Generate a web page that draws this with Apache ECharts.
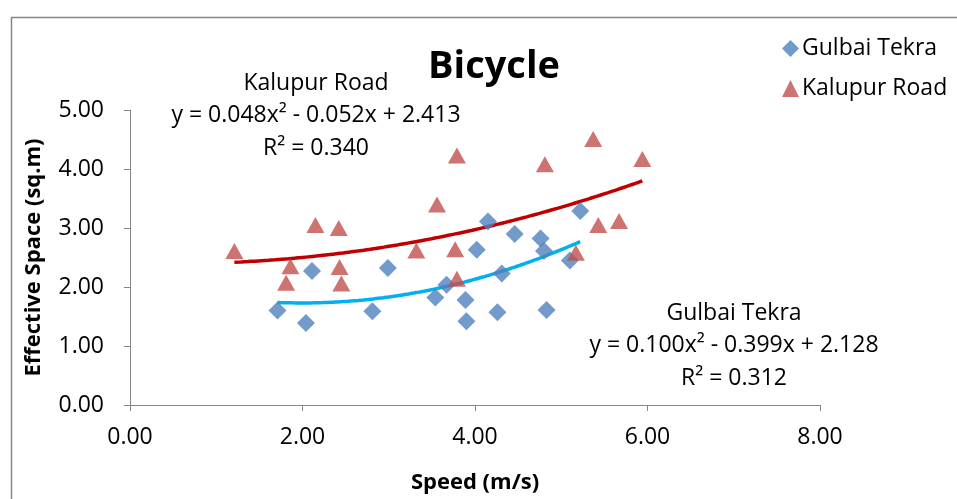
<!DOCTYPE html>
<html>
<head>
<meta charset="utf-8">
<script src="https://cdn.jsdelivr.net/npm/echarts@6/dist/echarts.min.js"></script>
<style>
html,body{margin:0;padding:0;background:#fff;}
#chart{width:957px;height:499px;}
</style>
</head>
<body>
<div id="chart"></div>
<script>
// Gulbai Tekra (speed m/s, effective space sq.m)
const gulbaiX = [1.71, 2.04, 2.11, 2.81, 2.99, 3.54, 3.67, 3.89, 3.90, 4.02, 4.15, 4.31, 4.26, 4.46, 4.76, 4.80, 4.83, 5.10, 5.22];
const gulbaiY = [1.60, 1.39, 2.27, 1.59, 2.32, 1.82, 2.04, 1.78, 1.42, 2.63, 3.11, 2.23, 1.57, 2.90, 2.82, 2.61, 1.61, 2.45, 3.29];
// Kalupur Road
const kalupurX = [1.21, 2.15, 2.42, 1.86, 1.81, 2.43, 2.45, 3.32, 3.56, 3.79, 3.77, 3.79, 4.81, 5.37, 5.43, 5.67, 5.94, 5.17];
const kalupurY = [2.61, 3.05, 3.00, 2.35, 2.07, 2.34, 2.06, 2.62, 3.40, 4.23, 2.64, 2.14, 4.08, 4.51, 3.05, 3.12, 4.17, 2.58];
// Polynomial trendline coefficients [a, b, c] for y = a x^2 + b x + c
const gulbaiFit = [0.100, -0.399, 2.128];
const kalupurFit = [0.048, -0.052, 2.413];
const xTicks = [0, 2, 4, 6, 8];
const yTicks = [0, 1, 2, 3, 4, 5];

function pairs(xs, ys){ return xs.map((x,i)=>[x, ys[i]]); }
function curve(fit, xs){
  const lo = Math.min(...xs), hi = Math.max(...xs), n = 60, out = [];
  for (let i=0;i<=n;i++){ const x = lo + (hi-lo)*i/n; out.push([x, fit[0]*x*x + fit[1]*x + fit[2]]); }
  return out;
}

const FONT = 'Open Sans';
const ANN = '23px "Open Sans"';
const chart = echarts.init(document.getElementById('chart'));
chart.setOption({
  animation:false,
  backgroundColor:'#fff',
  textStyle:{fontFamily:FONT},
  title:{text:'Bicycle', left:489, top:43, textAlign:'center',
    textStyle:{fontFamily:FONT, fontSize:38, fontWeight:'bold', color:'#000'}},
  legend:{
    data:['Gulbai Tekra','Kalupur Road'], orient:'vertical', left:777, top:32,
    itemWidth:17, itemHeight:17, itemGap:17,
    textStyle:{fontFamily:FONT, fontSize:23, color:'#000', padding:[0,0,0,-2]}
  },
  grid:{left:130, right:137, top:110, bottom:89.5},
  xAxis:{
    type:'value', min:0, max:8, interval:2,
    axisLine:{show:true, lineStyle:{color:'#868686', width:1}},
    axisTick:{show:true, inside:false, length:6, lineStyle:{color:'#868686'}},
    splitLine:{show:false},
    axisLabel:{fontFamily:FONT, fontSize:23, color:'#000', margin:21, formatter:v=>v.toFixed(2)},
    name:'Speed (m/s)', nameLocation:'middle', nameGap:67,
    nameTextStyle:{fontFamily:FONT, fontSize:22, fontWeight:'bold', color:'#000'}
  },
  yAxis:{
    type:'value', min:0, max:5, interval:1,
    axisLine:{show:true, lineStyle:{color:'#868686', width:1}},
    axisTick:{show:true, inside:false, length:6, lineStyle:{color:'#868686'}},
    splitLine:{show:false},
    axisLabel:{fontFamily:FONT, fontSize:23, color:'#000', margin:26, formatter:v=>v.toFixed(2)},
    name:'Effective Space (sq.m)', nameLocation:'middle', nameGap:85, nameRotate:90,
    nameTextStyle:{fontFamily:FONT, fontSize:22, fontWeight:'bold', color:'#000'}
  },
  series:[
    {name:'Gulbai Tekra fit', type:'line', data:curve(gulbaiFit, gulbaiX), showSymbol:false, smooth:true,
      lineStyle:{color:'#00B0F0', width:3.5}, z:1, silent:true},
    {name:'Kalupur Road fit', type:'line', data:curve(kalupurFit, kalupurX), showSymbol:false, smooth:true,
      lineStyle:{color:'#C00000', width:3.5}, z:1, silent:true},
    {name:'Gulbai Tekra', type:'scatter', symbol:'diamond', symbolSize:18,
      data:pairs(gulbaiX, gulbaiY), itemStyle:{color:'#4F81BD'}, z:3},
    {name:'Kalupur Road', type:'scatter', symbol:'triangle', symbolSize:[18,16],
      data:pairs(kalupurX, kalupurY), itemStyle:{color:'#C0504D'}, z:3}
  ],
  graphic:[
    {type:'rect', left:9, top:15, shape:{width:1000, height:600}, style:{fill:'none', stroke:'#868686', lineWidth:1.5}, z:-10, silent:true},
    {type:'text', x:316, y:83, style:{text:'Kalupur Road', font:ANN, fill:'#000', align:'center', verticalAlign:'middle'}},
    {type:'text', x:316, y:115, style:{text:'y = 0.048x² - 0.052x + 2.413', font:ANN, fill:'#000', align:'center', verticalAlign:'middle'}},
    {type:'text', x:316, y:148, style:{text:'R² = 0.340', font:ANN, fill:'#000', align:'center', verticalAlign:'middle'}},
    {type:'text', x:734, y:313, style:{text:'Gulbai Tekra', font:ANN, fill:'#000', align:'center', verticalAlign:'middle'}},
    {type:'text', x:734, y:345, style:{text:'y = 0.100x² - 0.399x + 2.128', font:ANN, fill:'#000', align:'center', verticalAlign:'middle'}},
    {type:'text', x:734, y:378, style:{text:'R² = 0.312', font:ANN, fill:'#000', align:'center', verticalAlign:'middle'}}
  ]
});
</script>
</body>
</html>
